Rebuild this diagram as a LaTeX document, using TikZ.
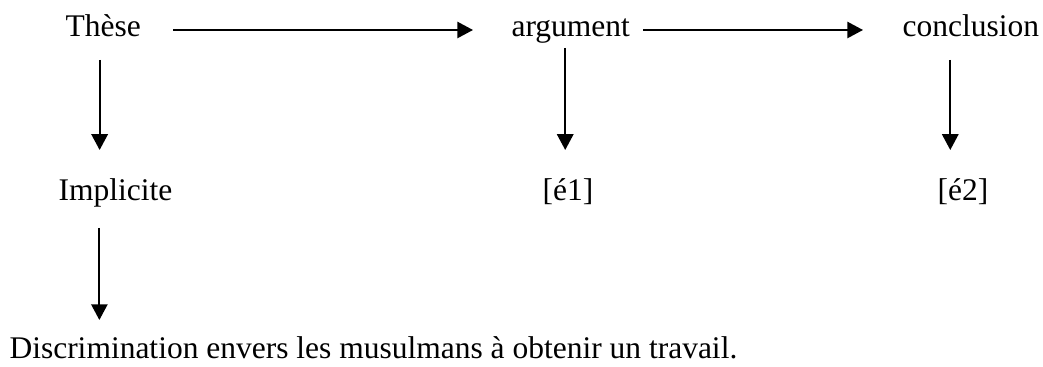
\documentclass[tikz,border=0pt]{standalone}
\usepackage{fontspec}
\setmainfont{Liberation Serif}
\usetikzlibrary{arrows.meta}

\begin{document}
\begin{tikzpicture}[x=0.381pt, y=-0.381pt,
    every node/.style={anchor=base west, inner sep=0pt, font=\fontsize{12}{14}\selectfont},
    fleche/.style={-{Triangle[length=6pt, width=6.2pt]}, line width=0.78pt}]
\useasboundingbox (0,0) rectangle (1043,367);
% top row
\node (these) at (65,37) {Thèse};
\node (argument) at (511,37) {argument};
\node (conclusion) at (902,37) {conclusion};
% second row
\node (implicite) at (58,201) {Implicite};
\node (e1) at (542,201) {[é1]};
\node (e2) at (937,201) {[é2]};
\node (discrim) at (9,358) {Discrimination envers les musulmans à obtenir un travail.};

\draw[fleche] ([shift={(32,-7)}]these.base east) -- ([shift={(-38,-7)}]argument.base west);
\draw[fleche] ([shift={(13,-7)}]argument.base east) -- ([shift={(-39,-7)}]conclusion.base west);
\draw[fleche] ([shift={(-3.5,23)}]these.base) -- ([shift={(-3.5,-51)}]these.base |- implicite.base);
\draw[fleche] ([shift={(-5.5,11)}]argument.base) -- ([shift={(-5.5,-51)}]argument.base |- e1.base);
\draw[fleche] ([shift={(-20.5,23)}]conclusion.base) -- ([shift={(-20.5,-51)}]conclusion.base |- e2.base);
\draw[fleche] ([shift={(-16,27)}]implicite.base) -- ([shift={(-16,-38)}]implicite.base |- discrim.base);
\end{tikzpicture}
\end{document}
